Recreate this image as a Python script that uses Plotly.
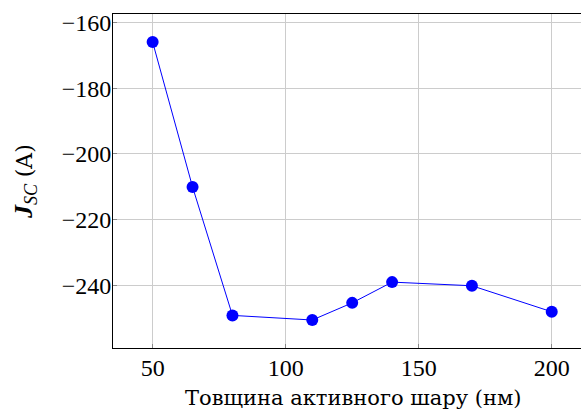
import plotly.graph_objects as go

thickness = [50, 65, 80, 110, 125, 140, 170, 200]
jsc = [-166, -210, -249, -250.4, -245.2, -238.9, -240.0, -247.9]
x_ticks = [50, 100, 150, 200]
y_ticks = [-160, -180, -200, -220, -240]
y_tick_labels = ["\u2212160", "\u2212180", "\u2212200", "\u2212220", "\u2212240"]
x_title = "Товщина активного шару (нм)"
y_title = "<b><i>J</i></b><sub><i>SC</i></sub> <span style='font-family:DejaVu Serif;font-size:22px'>(A)</span>"

TICK_FONT = "Liberation Serif"
TITLE_FONT = "DejaVu Serif"

L, R, T, B, W, H = 113, 0, 14, 66, 581, 414
PH = H - T - B
PW = W - L - R

fig = go.Figure()
fig.add_trace(go.Scatter(
    x=thickness, y=jsc, mode="lines+markers",
    line=dict(color="#0000ff", width=1),
    marker=dict(color="#0000ff", size=12),
    showlegend=False,
))

fig.update_layout(
    width=W, height=H,
    margin=dict(l=L, r=R, t=T, b=B),
    plot_bgcolor="white", paper_bgcolor="white",
    font=dict(family=TICK_FONT, size=24, color="black"),
    xaxis=dict(
        range=[35.1, 211], tickvals=x_ticks, ticktext=[str(v) for v in x_ticks],
        tickfont=dict(family=TICK_FONT, size=24),
        showgrid=True, gridcolor="#cccccc", gridwidth=1,
        showline=True, linecolor="black", linewidth=1, mirror=True,
        ticks="inside", ticklen=4, tickcolor="#888888",
        ticklabelstandoff=-2,
        zeroline=False,
    ),
    yaxis=dict(
        range=[-258.9, -157.5], tickvals=y_ticks, ticktext=y_tick_labels,
        tickfont=dict(family=TICK_FONT, size=24),
        showgrid=True, gridcolor="#cccccc", gridwidth=1,
        showline=True, linecolor="black", linewidth=1, mirror=True,
        ticks="inside", ticklen=4, tickcolor="#888888",
        ticklabelstandoff=-4,
        zeroline=False,
    ),
    annotations=[
        dict(text=x_title, xref="paper", yref="paper",
             x=(353 - L) / PW, y=(H - B - 398) / PH,
             xanchor="center", yanchor="middle", showarrow=False,
             font=dict(family=TITLE_FONT, size=21, color="black")),
        dict(text=y_title, xref="paper", yref="paper",
             x=(25 - L) / PW, y=(H - B - 182) / PH, textangle=-90,
             xanchor="center", yanchor="middle", showarrow=False,
             font=dict(family=TICK_FONT, size=26, color="black")),
    ],
)

fig.write_html("out.html")
